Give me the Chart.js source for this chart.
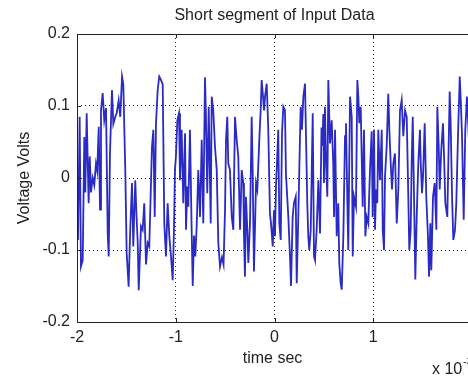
<!DOCTYPE html>
<html>
<head>
<meta charset="utf-8">
<script src="https://cdn.jsdelivr.net/npm/chart.js@4.4.1/dist/chart.umd.min.js"></script>
<style>
  html, body { margin: 0; padding: 0; background: #fff; overflow: hidden; }
  #wrap { width: 500px; height: 376px; }
</style>
</head>
<body>
<div id="wrap"><canvas id="signal" width="500" height="376"></canvas></div>
<script>
// time in units of 1e-3 s (axis shows the x 10^-3 multiplier)
const timeE3 = [
  -2.000, -1.990, -1.973, -1.960, -1.942, -1.926, -1.916, -1.902, -1.882, -1.871,
  -1.858, -1.841, -1.825, -1.808, -1.795, -1.780, -1.767, -1.757, -1.740, -1.724,
  -1.706, -1.689, -1.679, -1.666, -1.646, -1.632, -1.612, -1.598, -1.578, -1.562,
  -1.544, -1.531, -1.511, -1.497, -1.477, -1.463, -1.443, -1.430, -1.410, -1.398,
  -1.385, -1.375, -1.352, -1.335, -1.319, -1.301, -1.284, -1.268, -1.241, -1.227,
  -1.213, -1.200, -1.183, -1.167, -1.152, -1.132, -1.116, -1.099, -1.082, -1.065,
  -1.048, -1.031,
  -1.018, -1.008, -0.998, -0.984, -0.967, -0.957, -0.940, -0.924, -0.906, -0.896,
  -0.883, -0.873, -0.856, -0.839, -0.828, -0.815, -0.802, -0.788, -0.772, -0.754,
  -0.737, -0.721, -0.704, -0.694, -0.681, -0.666, -0.646, -0.636, -0.620, -0.603,
  -0.585, -0.569, -0.552, -0.532, -0.516, -0.501, -0.491, -0.478, -0.468, -0.451,
  -0.433, -0.417, -0.400, -0.383, -0.367, -0.349, -0.332, -0.316, -0.309, -0.299,
  -0.289, -0.275, -0.265, -0.248, -0.231, -0.221, -0.208, -0.187, -0.174, -0.154,
  -0.140, -0.130, -0.119, -0.106, -0.096, -0.079, -0.063, -0.046, -0.035, -0.018,
  -0.005,  0.005,  0.015,  0.028,  0.038,  0.049,  0.063,  0.076,  0.089,  0.106,
   0.116,  0.140,  0.157,  0.167,  0.184,  0.197,  0.215,  0.225,  0.241,  0.251,
   0.265,  0.278,  0.292,  0.309,  0.319,  0.332,  0.342,  0.352,  0.367,  0.387,
   0.400,  0.410,  0.427,  0.444,  0.461,  0.476,  0.486,  0.494,  0.501,  0.511,
   0.522,  0.535,  0.545,  0.562,  0.579,  0.595,  0.603,  0.613,  0.630,  0.646,
   0.656,  0.670,  0.681,  0.697,  0.714,  0.724,  0.737,  0.747,  0.765,  0.782,
   0.792,  0.805,  0.825,  0.839,  0.849,  0.859,  0.873,  0.893,  0.906,  0.920,
   0.934,  0.950,  0.967,  0.984,  0.994,  1.008,  1.018,  1.028,  1.041,  1.051,
   1.068,  1.086,  1.096,  1.109,  1.119,  1.136,  1.152,  1.163,  1.177,  1.190,
   1.203,  1.220,  1.238,  1.254,  1.271,  1.288,  1.304,  1.322,  1.339,  1.355,
   1.365,  1.379,  1.389,  1.400,  1.413,  1.426,  1.440,  1.456,  1.473,  1.481,
   1.494,  1.504,  1.521,  1.537,  1.554,  1.565,  1.578,  1.588,  1.605,  1.622,
   1.639,  1.649,  1.663,  1.673,  1.689,  1.706,  1.717,  1.730,  1.750,  1.774,
   1.784,  1.798,  1.811,  1.828,  1.841,  1.858,  1.876,  1.886,  1.899,  1.916,
   1.932,  1.949,  1.970,  1.995
];

// voltage samples, volts
const volts = [
  -0.060, -0.086,  0.085, -0.123, -0.114,  0.057, -0.020,  0.090, -0.035,  0.030,
  -0.020,  0.000, -0.010,  0.020,  0.010,  0.071, -0.044,  0.094,  0.118,  0.080,
   0.097, -0.077, -0.109,  0.034,  0.122,  0.075,  0.085,  0.090,  0.108,  0.085,
   0.141,  0.130,  0.011, -0.104, -0.151, -0.080, -0.007, -0.095, -0.003, -0.050,
  -0.090, -0.156, -0.067, -0.072, -0.035, -0.120, -0.090, -0.095,  0.043,  0.067,
  -0.054,  0.076,  0.122,  0.141,  0.137,  0.130, -0.063, -0.109, -0.035, -0.081,
  -0.109, -0.142,
  -0.072,  0.011,  0.030,  0.080,  0.090, -0.003,  0.067, -0.035,  0.062, -0.072,
  -0.012, -0.040,  0.067, -0.072, -0.150, -0.080, -0.109, -0.067,  0.011, -0.054,
   0.053, -0.063,  0.140,  0.085, -0.021,  0.099, -0.063,  0.113,  0.094,  0.044,
   0.011, -0.090, -0.123, -0.110, -0.120, -0.044,  0.053,  0.085,  0.020,  0.011,
  -0.054, -0.072,  0.085,  0.053,  0.030, -0.072,  0.011, -0.007, -0.081, -0.137,
  -0.026, -0.072, -0.118, -0.063,  0.085,  0.011, -0.130, -0.007, -0.016,  0.053,
   0.094,  0.136,  0.118,  0.094,  0.113,  0.131,  0.067, -0.050, -0.063, -0.095,
  -0.045, -0.081, -0.012,  0.030,  0.067, -0.063, -0.086,  0.062,  0.099,  0.094,
   0.006, -0.054, -0.109, -0.150, -0.054, -0.035, -0.026, -0.146, -0.054,  0.011,
   0.099,  0.067,  0.113,  0.131,  0.058, -0.035, -0.081, -0.100, -0.072,  0.090,
  -0.109, -0.114, -0.072, -0.003, -0.077,  0.070,  0.045,  0.089, -0.007,  0.099,
   0.020, -0.026,  0.136,  0.048,  0.080,  0.020, -0.054,  0.067, -0.081, -0.035,
  -0.118, -0.146, -0.155, -0.081,  0.058,  0.076, -0.026, -0.100,  0.113,  0.085,
  -0.109, -0.026, -0.040,  0.136,  0.113,  0.076,  0.099, -0.040,  0.067, -0.081,
  -0.054, -0.063,  0.011,  0.065, -0.054,  0.067, -0.072, -0.016, -0.035,  0.067,
  -0.003,  0.067, -0.072, -0.100,  0.002,  0.044,  0.117,  0.067,  0.020, -0.016,
   0.020,  0.034, -0.063, -0.016,  0.094,  0.108,  0.058,  0.094,  0.085, -0.026,
  -0.100, -0.072,  0.020,  0.085, -0.026, -0.141, -0.054,  0.020,  0.067,  0.020,
  -0.021,  0.002,  0.076, -0.026, -0.081, -0.137, -0.063, -0.128, -0.026, -0.007,
  -0.072,  0.099,  0.044, -0.016,  0.039,  0.076,  0.030, -0.035, -0.054,  0.120,
   0.076, -0.026, -0.086, -0.072, -0.035,  0.058,  0.141,  0.108,  0.058, -0.058,
   0.067,  0.113,  0.050,  0.090
];

const xTicks = [-2, -1, 0, 1, 2];
const yTicks = [-0.2, -0.1, 0, 0.1, 0.2];

const titleText = 'Short segment of Input Data';
const xLabel = 'time sec';
const yLabel = 'Voltage Volts';
const xExponent = '-3';

const FONT = '"Liberation Sans", Arial, sans-serif';
const INK = '#222';

// box, inward ticks and all the labels that sit outside the scales
const matlabAxes = {
  id: 'matlabAxes',
  afterDraw(chart) {
    const { ctx, chartArea: a, scales: { x, y } } = chart;
    ctx.save();
    ctx.strokeStyle = INK;
    ctx.lineWidth = 1;
    ctx.strokeRect(Math.round(a.left) + 0.5, Math.round(a.top) + 0.5,
      Math.round(a.right - a.left), Math.round(a.bottom - a.top));

    ctx.beginPath();
    xTicks.forEach(v => {
      const px = Math.round(x.getPixelForValue(v)) + 0.5;
      ctx.moveTo(px, a.bottom); ctx.lineTo(px, a.bottom - 4);
      ctx.moveTo(px, a.top); ctx.lineTo(px, a.top + 4);
    });
    yTicks.forEach(v => {
      const py = Math.round(y.getPixelForValue(v)) + 0.5;
      ctx.moveTo(a.left, py); ctx.lineTo(a.left + 4, py);
      ctx.moveTo(a.right, py); ctx.lineTo(a.right - 4, py);
    });
    ctx.stroke();

    ctx.fillStyle = INK;
    ctx.textBaseline = 'middle';
    ctx.textAlign = 'center';
    ctx.font = '16px ' + FONT;
    ctx.fillText(titleText, (a.left + a.right) / 2, 16);
    ctx.fillText(xLabel, (a.left + a.right) / 2 - 2, 359);

    ctx.save();
    ctx.translate(25, (a.top + a.bottom) / 2);
    ctx.rotate(-Math.PI / 2);
    ctx.fillText(yLabel, 0, 0);
    ctx.restore();

    ctx.textAlign = 'left';
    ctx.fillText('x 10', 432, 370);
    ctx.font = '11px ' + FONT;
    ctx.fillText(xExponent, 463, 362);
    ctx.restore();
  }
};

new Chart(document.getElementById('signal'), {
  type: 'line',
  data: {
    datasets: [{
      data: timeE3.map((t, i) => ({ x: t, y: volts[i] })),
      borderColor: '#2a2ac4',
      borderWidth: 1.8,
      pointRadius: 0,
      tension: 0,
      fill: false
    }]
  },
  options: {
    responsive: false,
    animation: false,
    layout: { padding: { top: 34, right: 28, bottom: 0, left: 0 } },
    plugins: {
      legend: { display: false },
      title: { display: false },
      tooltip: { enabled: false }
    },
    scales: {
      x: {
        type: 'linear',
        min: -2,
        max: 2,
        afterBuildTicks: s => { s.ticks = xTicks.map(v => ({ value: v })); },
        afterFit: s => { s.height = 54; },
        grid: { color: INK, drawTicks: false, lineWidth: 1 },
        border: { display: false, dash: [1, 3] },
        ticks: {
          color: INK,
          padding: 6,
          maxRotation: 0,
          font: { family: FONT, size: 16 },
          callback: v => String(v)
        }
      },
      y: {
        min: -0.2,
        max: 0.2,
        afterBuildTicks: s => { s.ticks = yTicks.map(v => ({ value: v })); },
        afterFit: s => { s.width = 77; },
        grid: { color: INK, drawTicks: false, lineWidth: 1 },
        border: { display: false, dash: [1, 3] },
        ticks: {
          color: INK,
          padding: 7,
          font: { family: FONT, size: 16 },
          callback: v => String(Number(v.toFixed(1)))
        }
      }
    }
  },
  plugins: [matlabAxes]
});
</script>
</body>
</html>
